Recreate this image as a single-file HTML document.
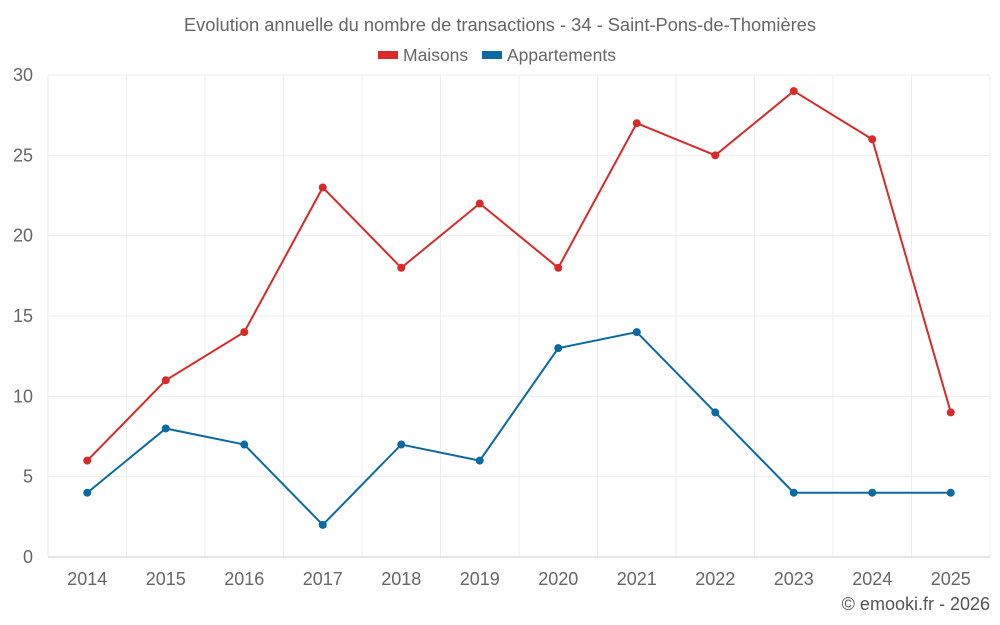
<!DOCTYPE html>
<html><head><meta charset="utf-8"><style>
body{margin:0;background:#fff;}
svg{display:block;font-family:"Liberation Sans",Arial,sans-serif;}
</style></head><body>
<svg id="c" width="1000" height="625">
<text x="500" y="31" text-anchor="middle" font-size="18.3" fill="#666">Evolution annuelle du nombre de transactions - 34 - Saint-Pons-de-Thomières</text>
<g>
<g><rect x="378" y="51" width="20" height="8" fill="#d92a2a"/><text x="403" y="61" font-size="17.5" fill="#666">Maisons</text></g>
<g><rect x="482" y="51" width="20" height="8" fill="#0a6aa1"/><text x="507" y="61" font-size="17.5" fill="#666">Appartements</text></g>
</g>
<g id="grid"></g>
<g id="axes"></g>
<g id="series"></g>
<text x="990" y="610" text-anchor="end" font-size="18" fill="#555">© emooki.fr - 2026</text>
</svg>
<script>
const years=["2014","2015","2016","2017","2018","2019","2020","2021","2022","2023","2024","2025"];
const maisons=[6,11,14,23,18,22,18,27,25,29,26,9];
const appartements=[4,8,7,2,7,6,13,14,9,4,4,4];
const yTicks=[0,5,10,15,20,25,30];
const L=48,R=990,T=75,B=557,yMax=30;
const bw=(R-L)/years.length;
const x=i=>L+bw*(i+0.5);
const y=v=>B-(v/yMax)*(B-T);
const NS="http://www.w3.org/2000/svg";
function mk(tag,attrs,parent){const e=document.createElementNS(NS,tag);for(const k in attrs)e.setAttribute(k,attrs[k]);parent.appendChild(e);return e;}
const grid=document.getElementById('grid'),axes=document.getElementById('axes'),ser=document.getElementById('series');
for(let i=0;i<=years.length;i++){const l=mk('line',{x1:L+bw*i,x2:L+bw*i,y1:T,y2:B,stroke:'#eee'},grid);

}
yTicks.forEach(t=>{const l=mk('line',{x1:L,x2:R,y1:y(t),y2:y(t),stroke:t===0?'#ccc':'#eee'},grid);


const tx=mk('text',{x:33,y:y(t)+6,'text-anchor':'end','font-size':18,fill:'#666'},axes);tx.textContent=t;

});
years.forEach((yr,i)=>{const tx=mk('text',{x:x(i),y:585,'text-anchor':'middle','font-size':18,fill:'#666'},axes);tx.textContent=yr;

});
function draw(data,color,name){
const p=mk('polyline',{points:data.map((v,i)=>x(i)+','+y(v)).join(' '),fill:'none',stroke:color,'stroke-width':2},ser);


data.forEach((v,i)=>{const c=mk('circle',{cx:x(i),cy:y(v),r:4,fill:color},ser);

});}
draw(maisons,'#d92a2a','maisons');
draw(appartements,'#0a6aa1','appartements');
</script>
</body></html>
